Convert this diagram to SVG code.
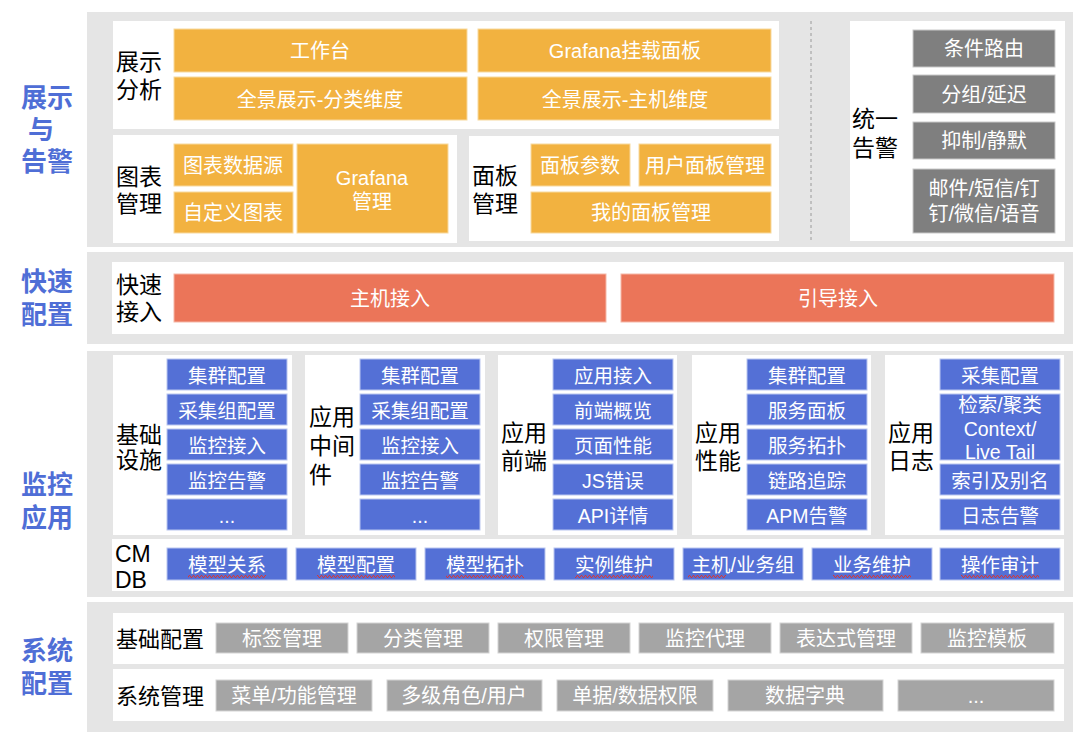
<svg xmlns="http://www.w3.org/2000/svg" width="1080" height="739" viewBox="0 0 1080 739">
<style>
text{font-family:"Liberation Sans","Noto Sans CJK SC","Microsoft YaHei",sans-serif;transform:translate(0px,1px);}
.bg{fill:#e5e5e5;}
.pn{fill:#ffffff;}
.or{fill:#f2b240;stroke:#f8d99e;stroke-width:1;}
.rd{fill:#eb7559;stroke:#f5b8a8;stroke-width:1;}
.bl{fill:#5470d6;stroke:#b9c6f0;stroke-width:1;}
.dg{fill:#7f7f7f;stroke:#c9c9c9;stroke-width:1;}
.lg{fill:#a5a5a5;stroke:#d4d4d4;stroke-width:1;}
.wt{fill:#ffffff;font-size:20px;text-anchor:middle;dominant-baseline:central;}
.wb{fill:#ffffff;font-size:19.5px;text-anchor:middle;dominant-baseline:central;}
.lb{fill:#000000;font-size:23px;dominant-baseline:central;}
.lb2{fill:#000000;font-size:22px;dominant-baseline:central;}
.sec{fill:#4f6ed6;font-size:26px;font-weight:bold;dominant-baseline:central;}
.sq{fill:url(#wave);}
</style>
<defs>
<pattern id="wave" x="0" y="575" width="4" height="3" patternUnits="userSpaceOnUse">
<path d="M0 2.5 L1 0.5 L2 0.5 L3 2.5 L4 2.5" fill="none" stroke="#e0322b" stroke-width="0.9"/>
</pattern>
</defs>

<!-- section backgrounds -->
<g id="sections">
<rect class="bg" x="87" y="12" width="986" height="235"/>
<rect class="bg" x="87" y="252" width="986" height="92"/>
<rect class="bg" x="87" y="351" width="986" height="246"/>
<rect class="bg" x="87" y="602" width="986" height="130"/>
<text class="sec"><tspan x="21" y="97">展示</tspan><tspan x="28" y="129">与</tspan><tspan x="21" y="161">告警</tspan></text>
<text class="sec"><tspan x="21" y="281">快速</tspan><tspan x="21" y="314">配置</tspan></text>
<text class="sec"><tspan x="21" y="484">监控</tspan><tspan x="21" y="517">应用</tspan></text>
<text class="sec"><tspan x="21" y="650">系统</tspan><tspan x="21" y="683">配置</tspan></text>
</g>

<!-- row 1 -->
<g id="display-analysis">
<rect class="pn" x="113" y="21" width="666" height="108"/>
<text class="lb"><tspan x="116" y="61">展示</tspan><tspan x="116" y="89">分析</tspan></text>
<rect class="or" x="174" y="29" width="293" height="43"/>
<text class="wt" x="320" y="50">工作台</text>
<rect class="or" x="478" y="29" width="293" height="43"/>
<text class="wt" x="625" y="50">Grafana挂载面板</text>
<rect class="or" x="174" y="77" width="293" height="43"/>
<text class="wt" x="320" y="99">全景展示-分类维度</text>
<rect class="or" x="478" y="77" width="293" height="43"/>
<text class="wt" x="625" y="99">全景展示-主机维度</text>
</g>

<g id="chart-management">
<rect class="pn" x="113" y="135" width="344" height="108"/>
<text class="lb"><tspan x="116" y="176">图表</tspan><tspan x="116" y="203">管理</tspan></text>
<rect class="or" x="174" y="144" width="119" height="42"/>
<text class="wt" x="233" y="165">图表数据源</text>
<rect class="or" x="174" y="192" width="119" height="41"/>
<text class="wt" x="233" y="212">自定义图表</text>
<rect class="or" x="297" y="144" width="151" height="89"/>
<text class="wt"><tspan x="372" y="177">Grafana</tspan><tspan x="372" y="201">管理</tspan></text>
</g>

<g id="panel-management">
<rect class="pn" x="469" y="136" width="310" height="105"/>
<text class="lb"><tspan x="472" y="175">面板</tspan><tspan x="472" y="203">管理</tspan></text>
<rect class="or" x="531" y="144" width="99" height="42"/>
<text class="wt" x="580" y="165">面板参数</text>
<rect class="or" x="639" y="144" width="132" height="42"/>
<text class="wt" x="705" y="165">用户面板管理</text>
<rect class="or" x="531" y="192" width="240" height="41"/>
<text class="wt" x="651" y="212">我的面板管理</text>
</g>

<g id="connectors">
<line x1="811" y1="21" x2="811" y2="241" stroke="#9a9a9a" stroke-width="1" stroke-dasharray="3,3"/>
</g>

<g id="unified-alert">
<rect class="pn" x="850" y="21" width="215" height="220"/>
<text class="lb"><tspan x="852" y="118">统一</tspan><tspan x="852" y="147">告警</tspan></text>
<rect class="dg" x="913" y="30" width="142" height="37"/>
<text class="wt" x="984" y="48">条件路由</text>
<rect class="dg" x="913" y="75" width="142" height="38"/>
<text class="wt" x="984" y="94">分组/延迟</text>
<rect class="dg" x="913" y="122" width="142" height="37"/>
<text class="wt" x="984" y="140">抑制/静默</text>
<rect class="dg" x="913" y="169" width="142" height="64"/>
<text class="wt"><tspan x="984" y="188">邮件/短信/钉</tspan><tspan x="984" y="213">钉/微信/语音</tspan></text>
</g>

<!-- row 2 -->
<g id="quick-access">
<rect class="pn" x="112" y="262" width="952" height="72"/>
<text class="lb"><tspan x="116" y="284">快速</tspan><tspan x="116" y="311">接入</tspan></text>
<rect class="rd" x="174" y="274" width="432" height="48"/>
<text class="wt" x="390" y="298">主机接入</text>
<rect class="rd" x="621" y="274" width="433" height="48"/>
<text class="wt" x="838" y="298">引导接入</text>
</g>

<!-- row 3 -->
<g id="infra">
<rect class="pn" x="113" y="355" width="179" height="180"/>
<text class="lb"><tspan x="116" y="434">基础</tspan><tspan x="116" y="459">设施</tspan></text>
<rect class="bl" x="167" y="359" width="120" height="31"/><text class="wb" x="227" y="375">集群配置</text>
<rect class="bl" x="167" y="394" width="120" height="31"/><text class="wb" x="227" y="410">采集组配置</text>
<rect class="bl" x="167" y="429" width="120" height="31"/><text class="wb" x="227" y="445">监控接入</text>
<rect class="bl" x="167" y="464" width="120" height="31"/><text class="wb" x="227" y="480">监控告警</text>
<rect class="bl" x="167" y="499" width="120" height="31"/><text class="wb" x="227" y="515">...</text>
</g>

<g id="middleware">
<rect class="pn" x="305" y="355" width="180" height="180"/>
<text class="lb"><tspan x="309" y="416">应用</tspan><tspan x="309" y="445">中间</tspan><tspan x="309" y="474">件</tspan></text>
<rect class="bl" x="360" y="359" width="120" height="31"/><text class="wb" x="420" y="375">集群配置</text>
<rect class="bl" x="360" y="394" width="120" height="31"/><text class="wb" x="420" y="410">采集组配置</text>
<rect class="bl" x="360" y="429" width="120" height="31"/><text class="wb" x="420" y="445">监控接入</text>
<rect class="bl" x="360" y="464" width="120" height="31"/><text class="wb" x="420" y="480">监控告警</text>
<rect class="bl" x="360" y="499" width="120" height="31"/><text class="wb" x="420" y="515">...</text>
</g>

<g id="frontend">
<rect class="pn" x="498" y="355" width="179" height="180"/>
<text class="lb"><tspan x="501" y="432">应用</tspan><tspan x="501" y="460">前端</tspan></text>
<rect class="bl" x="553" y="359" width="120" height="31"/><text class="wb" x="613" y="375">应用接入</text>
<rect class="bl" x="553" y="394" width="120" height="31"/><text class="wb" x="613" y="410">前端概览</text>
<rect class="bl" x="553" y="429" width="120" height="31"/><text class="wb" x="613" y="445">页面性能</text>
<rect class="bl" x="553" y="464" width="120" height="31"/><text class="wb" x="613" y="480">JS错误</text>
<rect class="bl" x="553" y="499" width="120" height="31"/><text class="wb" x="613" y="515">API详情</text>
</g>

<g id="apm">
<rect class="pn" x="692" y="355" width="179" height="180"/>
<text class="lb"><tspan x="695" y="432">应用</tspan><tspan x="695" y="460">性能</tspan></text>
<rect class="bl" x="747" y="359" width="120" height="31"/><text class="wb" x="807" y="375">集群配置</text>
<rect class="bl" x="747" y="394" width="120" height="31"/><text class="wb" x="807" y="410">服务面板</text>
<rect class="bl" x="747" y="429" width="120" height="31"/><text class="wb" x="807" y="445">服务拓扑</text>
<rect class="bl" x="747" y="464" width="120" height="31"/><text class="wb" x="807" y="480">链路追踪</text>
<rect class="bl" x="747" y="499" width="120" height="31"/><text class="wb" x="807" y="515">APM告警</text>
</g>

<g id="logs">
<rect class="pn" x="885" y="355" width="179" height="180"/>
<text class="lb"><tspan x="888" y="432">应用</tspan><tspan x="888" y="460">日志</tspan></text>
<rect class="bl" x="940" y="359" width="120" height="31"/><text class="wb" x="1000" y="375">采集配置</text>
<rect class="bl" x="940" y="394" width="120" height="66"/>
<text class="wb"><tspan x="1000" y="404">检索/聚类</tspan><tspan x="1000" y="428">Context/</tspan><tspan x="1000" y="451">Live Tail</tspan></text>
<rect class="bl" x="940" y="464" width="120" height="31"/><text class="wb" x="1000" y="480">索引及别名</text>
<rect class="bl" x="940" y="499" width="120" height="31"/><text class="wb" x="1000" y="515">日志告警</text>
</g>

<g id="cmdb">
<rect class="pn" x="112" y="539" width="952" height="52"/>
<text class="lb"><tspan x="115" y="553">CM</tspan><tspan x="115" y="579">DB</tspan></text>
<rect class="bl" x="167" y="548" width="120" height="32"/><text class="wb" x="227" y="564">模型关系</text>
<rect class="sq" x="188" y="575" width="78" height="3"/>
<rect class="bl" x="296" y="548" width="120" height="32"/><text class="wb" x="356" y="564">模型配置</text>
<rect class="sq" x="317" y="575" width="78" height="3"/>
<rect class="bl" x="425" y="548" width="120" height="32"/><text class="wb" x="485" y="564">模型拓扑</text>
<rect class="sq" x="446" y="575" width="78" height="3"/>
<rect class="bl" x="554" y="548" width="120" height="32"/><text class="wb" x="614" y="564">实例维护</text>
<rect class="sq" x="575" y="575" width="78" height="3"/>
<rect class="bl" x="683" y="548" width="120" height="32"/><text class="wb" x="743" y="564">主机/业务组</text>
<rect class="sq" x="688" y="575" width="38" height="3"/>
<rect class="bl" x="812" y="548" width="120" height="32"/><text class="wb" x="872" y="564">业务维护</text>
<rect class="sq" x="833" y="575" width="78" height="3"/>
<rect class="bl" x="940" y="548" width="120" height="32"/><text class="wb" x="1000" y="564">操作审计</text>
<rect class="sq" x="961" y="575" width="78" height="3"/>
</g>

<!-- row 4 -->
<g id="basic-config">
<rect class="pn" x="113" y="613" width="951" height="51"/>
<text class="lb2" x="116" y="638">基础配置</text>
<rect class="lg" x="216" y="623" width="132" height="30"/><text class="wt" x="282" y="638">标签管理</text>
<rect class="lg" x="357" y="623" width="132" height="30"/><text class="wt" x="423" y="638">分类管理</text>
<rect class="lg" x="498" y="623" width="132" height="30"/><text class="wt" x="564" y="638">权限管理</text>
<rect class="lg" x="639" y="623" width="132" height="30"/><text class="wt" x="705" y="638">监控代理</text>
<rect class="lg" x="780" y="623" width="132" height="30"/><text class="wt" x="846" y="638">表达式管理</text>
<rect class="lg" x="921" y="623" width="133" height="30"/><text class="wt" x="987" y="638">监控模板</text>
</g>

<g id="system-management">
<rect class="pn" x="113" y="669" width="951" height="52"/>
<text class="lb2" x="116" y="695">系统管理</text>
<rect class="lg" x="216" y="680" width="156" height="31"/><text class="wt" x="294" y="695">菜单/功能管理</text>
<rect class="lg" x="387" y="680" width="155" height="31"/><text class="wt" x="464" y="695">多级角色/用户</text>
<rect class="lg" x="557" y="680" width="156" height="31"/><text class="wt" x="635" y="695">单据/数据权限</text>
<rect class="lg" x="728" y="680" width="155" height="31"/><text class="wt" x="805" y="695">数据字典</text>
<rect class="lg" x="898" y="680" width="156" height="31"/><text class="wt" x="976" y="695">...</text>
</g>
</svg>
